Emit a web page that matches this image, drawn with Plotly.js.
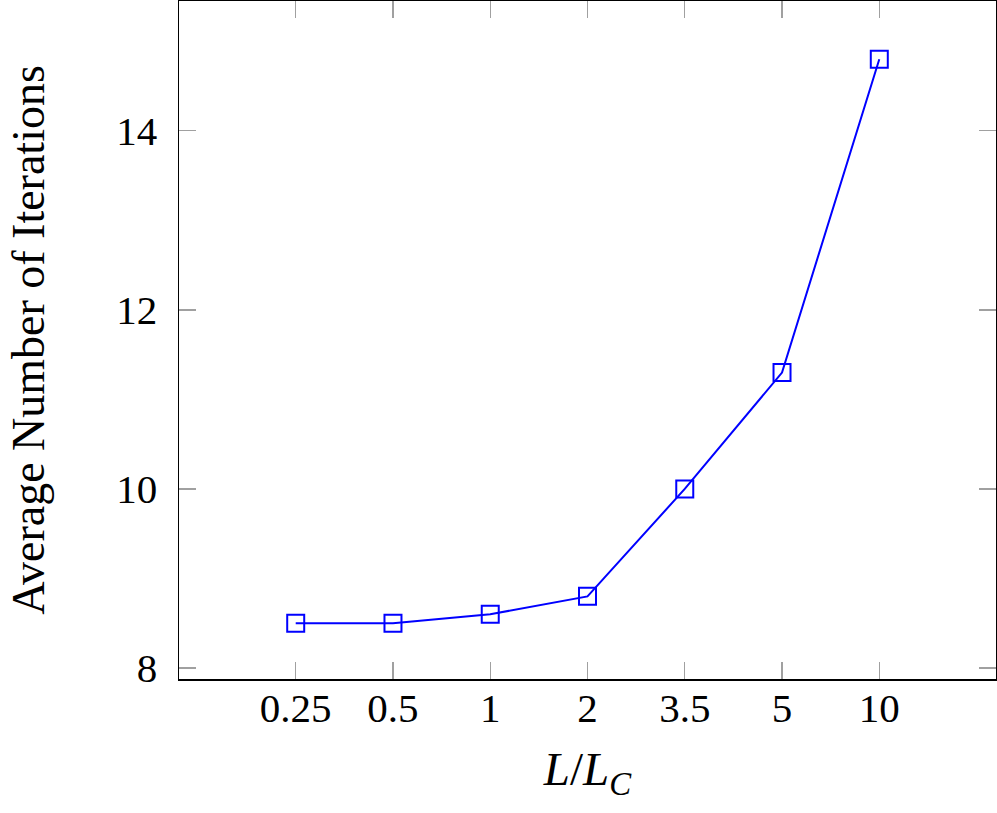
<!DOCTYPE html>
<html><head><meta charset="utf-8">
<script src="https://cdn.plot.ly/plotly-3.0.1.min.js"></script>
<style>body{margin:0;padding:0;background:#fff}#chart{width:997px;height:813px}</style>
</head><body><div id="chart"></div>
<script>
const ratioLabels = ["0.25", "0.5", "1", "2", "3.5", "5", "10"];
const avgIterations = [8.5, 8.5, 8.6, 8.8, 10.0, 11.3, 14.8];
const yTicks = [8, 10, 12, 14];

const font = "Liberation Serif, DejaVu Serif, serif";
const trace = {
  x: ratioLabels, y: avgIterations, type: 'scatter', mode: 'lines+markers',
  line: {color: '#0000ff', width: 2},
  marker: {symbol: 'square-open', size: 17, color: '#0000ff', line: {width: 2, color: '#0000ff'}},
  showlegend: false, cliponaxis: false
};
const layout = {
  width: 997, height: 813,
  margin: {l: 179, r: 1, t: 1, b: 134},
  paper_bgcolor: '#fff', plot_bgcolor: '#fff',
  font: {family: font, size: 41, color: '#000'},
  xaxis: {
    type: 'category', range: [-1.2, 7.2],
    tickvals: ratioLabels, ticktext: ratioLabels,
    ticks: 'inside', ticklen: 17, tickcolor: '#a0a0a0', tickwidth: 1.3,
    showline: true, linecolor: '#000', linewidth: 1.5, mirror: 'ticks',
    showgrid: false, zeroline: false,
    tickfont: {family: font, size: 41},
    ticklabelstandoff: -8,
    title: {text: '<i>L</i>/<i>L</i><sub><i>C</i></sub>', font: {family: font, size: 47}, standoff: 22}
  },
  yaxis: {
    range: [7.877, 15.45],
    tickvals: yTicks,
    ticks: 'inside', ticklen: 17, tickcolor: '#a0a0a0', tickwidth: 1.3,
    showline: true, linecolor: '#000', linewidth: 1.5, mirror: 'ticks',
    showgrid: false, zeroline: false,
    tickfont: {family: font, size: 41},
    ticklabelstandoff: 12,
    title: {text: 'Average Number of Iterations', font: {family: font, size: 46}, standoff: 57}
  }
};
Plotly.newPlot('chart', [trace], layout, {displayModeBar: false, staticPlot: true});
</script></body></html>
